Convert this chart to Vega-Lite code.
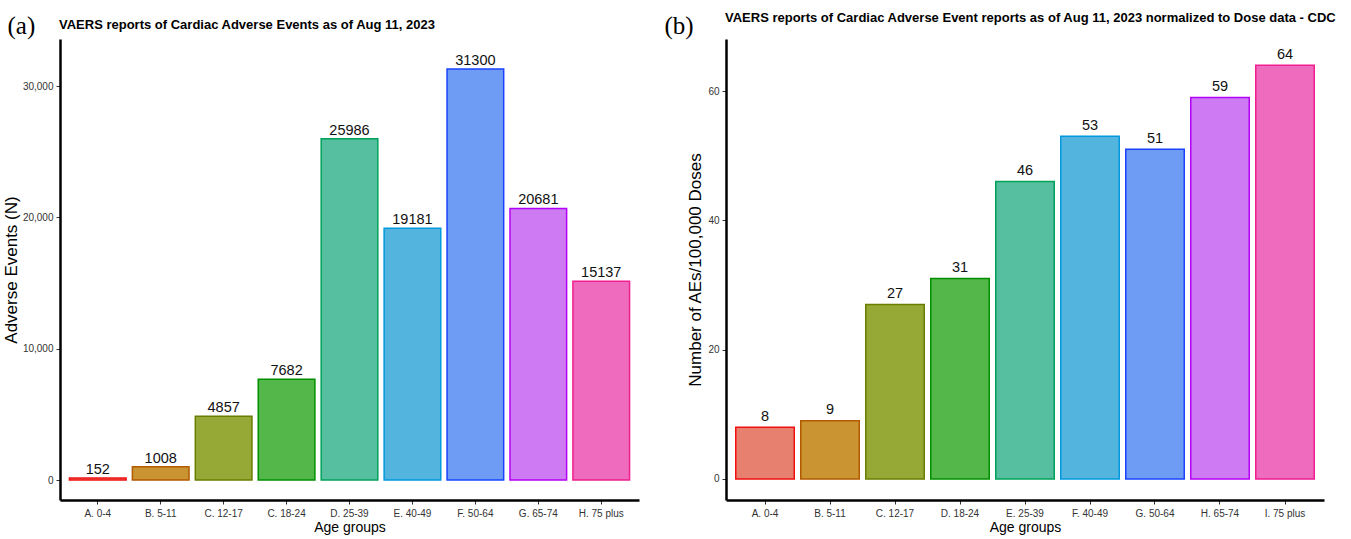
{
  "$schema": "https://vega.github.io/schema/vega-lite/v6.json",
  "padding": {"left": 2, "top": 12, "right": 5, "bottom": 2},
  "background": "white",
  "config": {
    "view": {"stroke": null},
    "font": "Liberation Sans",
    "axis": {
      "grid": false,
      "domainColor": "black",
      "domainWidth": 2.5,
      "tickColor": "#333333",
      "tickWidth": 1,
      "tickSize": 4,
      "labelColor": "#333333",
      "labelFont": "Liberation Sans",
      "titleFont": "Liberation Sans",
      "titleFontWeight": "normal",
      "titleColor": "black"
    }
  },
  "datasets": {
    "counts": [
      {"group": "A. 0-4", "value": 152},
      {"group": "B. 5-11", "value": 1008},
      {"group": "C. 12-17", "value": 4857},
      {"group": "C. 18-24", "value": 7682},
      {"group": "D. 25-39", "value": 25986},
      {"group": "E. 40-49", "value": 19181},
      {"group": "F. 50-64", "value": 31300},
      {"group": "G. 65-74", "value": 20681},
      {"group": "H. 75 plus", "value": 15137}
    ],
    "rates": [
      {"group": "A. 0-4", "value": 8},
      {"group": "B. 5-11", "value": 9},
      {"group": "C. 12-17", "value": 27},
      {"group": "D. 18-24", "value": 31},
      {"group": "E. 25-39", "value": 46},
      {"group": "F. 40-49", "value": 53},
      {"group": "G. 50-64", "value": 51},
      {"group": "H. 65-74", "value": 59},
      {"group": "I. 75 plus", "value": 64}
    ]
  },
  "spacing": 25,
  "resolve": {"scale": {"color": "independent", "stroke": "independent"}},
  "hconcat": [
    {
      "width": 579,
      "height": 461,
      "data": {"name": "counts"},
      "title": {
        "text": "VAERS reports of Cardiac Adverse Events as of Aug 11, 2023",
        "anchor": "start",
        "frame": "group",
        "font": "Liberation Sans",
        "fontSize": 13,
        "fontWeight": "bold",
        "color": "black",
        "baseline": "alphabetic",
        "dx": -1,
        "offset": -29
      },
      "layer": [
        {
          "mark": {"type": "bar", "strokeWidth": 1.5},
          "encoding": {
            "x": {
              "field": "group", "type": "nominal", "sort": null,
              "scale": {"paddingInner": 0.1, "paddingOuter": 0.15},
              "axis": {"title": "Age groups", "labelAngle": 0, "labelFontSize": 10, "labelPadding": 4, "titleFontSize": 14, "titlePadding": 2}
            },
            "y": {
              "field": "value", "type": "quantitative",
              "scale": {"domain": [-1523, 33587], "nice": false, "zero": false},
              "axis": {"title": "Adverse Events (N)", "values": [0, 10000, 20000, 30000], "format": ",d", "labelFontSize": 10, "labelPadding": 3, "titleFontSize": 17, "titlePadding": 2}
            },
            "color": {
              "field": "group", "type": "nominal", "legend": null,
              "scale": {
                "domain": ["A. 0-4", "B. 5-11", "C. 12-17", "C. 18-24", "D. 25-39", "E. 40-49", "F. 50-64", "G. 65-74", "H. 75 plus"],
                "range": ["#E8806F", "#C99431", "#96A836", "#53B74A", "#56BFA0", "#53B5DE", "#6E9CF5", "#CD7AF3", "#EE6BBD"]
              }
            },
            "stroke": {
              "field": "group", "type": "nominal", "legend": null,
              "scale": {
                "domain": ["A. 0-4", "B. 5-11", "C. 12-17", "C. 18-24", "D. 25-39", "E. 40-49", "F. 50-64", "G. 65-74", "H. 75 plus"],
                "range": ["#F01010", "#B35A00", "#6B7D00", "#009000", "#00A25A", "#0099DD", "#1A43FF", "#B400F5", "#F01E8F"]
              }
            }
          }
        },
        {
          "mark": {"type": "text", "baseline": "alphabetic", "dy": -4, "fontSize": 14.5, "color": "#111111"},
          "encoding": {
            "x": {
              "field": "group", "type": "nominal", "sort": null,
              "axis": {"orient": "top", "title": "(a)", "labels": false, "ticks": false, "domain": false,
                       "titleFont": "Liberation Serif", "titleFontSize": 25, "titleFontWeight": "normal",
                       "titleAlign": "left", "titleBaseline": "alphabetic", "titleX": -53, "titleY": -6}
            },
            "y": {"field": "value", "type": "quantitative"},
            "text": {"field": "value", "type": "quantitative", "format": "d"}
          }
        }
      ],
      "resolve": {"axis": {"x": "independent"}}
    },
    {
      "width": 598,
      "height": 461,
      "data": {"name": "rates"},
      "title": {
        "text": "VAERS reports of Cardiac Adverse Event reports as of Aug 11, 2023 normalized to Dose data - CDC",
        "anchor": "start",
        "frame": "group",
        "font": "Liberation Sans",
        "fontSize": 13,
        "fontWeight": "bold",
        "color": "black",
        "baseline": "alphabetic",
        "dx": -1,
        "offset": -22
      },
      "layer": [
        {
          "mark": {"type": "bar", "strokeWidth": 1.5},
          "encoding": {
            "x": {
              "field": "group", "type": "nominal", "sort": null,
              "scale": {"paddingInner": 0.1, "paddingOuter": 0.15},
              "axis": {"title": "Age groups", "labelAngle": 0, "labelFontSize": 10, "labelPadding": 4, "titleFontSize": 14, "titlePadding": 2}
            },
            "y": {
              "field": "value", "type": "quantitative",
              "scale": {"domain": [-3.25, 68.06], "nice": false, "zero": false},
              "axis": {"title": "Number of AEs/100,000 Doses", "values": [0, 20, 40, 60], "labelFontSize": 10, "labelPadding": 3, "titleFontSize": 17, "titlePadding": 3}
            },
            "color": {
              "field": "group", "type": "nominal", "legend": null,
              "scale": {
                "domain": ["A. 0-4", "B. 5-11", "C. 12-17", "D. 18-24", "E. 25-39", "F. 40-49", "G. 50-64", "H. 65-74", "I. 75 plus"],
                "range": ["#E8806F", "#C99431", "#96A836", "#53B74A", "#56BFA0", "#53B5DE", "#6E9CF5", "#CD7AF3", "#EE6BBD"]
              }
            },
            "stroke": {
              "field": "group", "type": "nominal", "legend": null,
              "scale": {
                "domain": ["A. 0-4", "B. 5-11", "C. 12-17", "D. 18-24", "E. 25-39", "F. 40-49", "G. 50-64", "H. 65-74", "I. 75 plus"],
                "range": ["#F01010", "#B35A00", "#6B7D00", "#009000", "#00A25A", "#0099DD", "#1A43FF", "#B400F5", "#F01E8F"]
              }
            }
          }
        },
        {
          "mark": {"type": "text", "baseline": "alphabetic", "dy": -6.5, "fontSize": 14.5, "color": "#111111"},
          "encoding": {
            "x": {
              "field": "group", "type": "nominal", "sort": null,
              "axis": {"orient": "top", "title": "(b)", "labels": false, "ticks": false, "domain": false,
                       "titleFont": "Liberation Serif", "titleFontSize": 25, "titleFontWeight": "normal",
                       "titleAlign": "left", "titleBaseline": "alphabetic", "titleX": -62, "titleY": -6}
            },
            "y": {"field": "value", "type": "quantitative"},
            "text": {"field": "value", "type": "quantitative", "format": "d"}
          }
        }
      ],
      "resolve": {"axis": {"x": "independent"}}
    }
  ]
}
